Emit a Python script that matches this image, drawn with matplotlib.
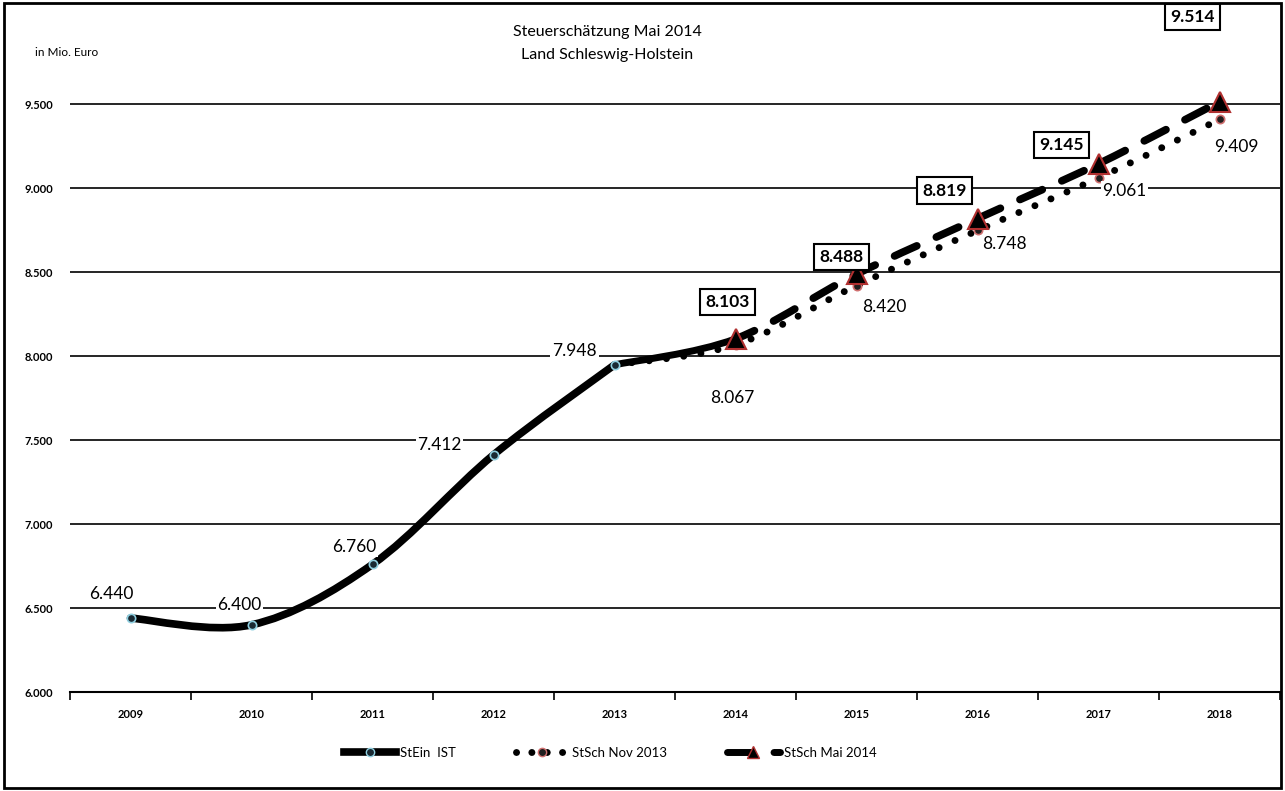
import matplotlib
matplotlib.use("Agg")
import matplotlib.pyplot as plt
from matplotlib.path import Path
from matplotlib.patches import PathPatch, Rectangle
from matplotlib.lines import Line2D
import numpy as np

plt.rcParams['font.family'] = ['Lato', 'DejaVu Sans']

years = ['2009', '2010', '2011', '2012', '2013', '2014', '2015', '2016', '2017', '2018']
ist_x = [0, 1, 2, 3, 4]
ist_vals = [6440, 6400, 6760, 7412, 7948]
nov_x = [4, 5, 6, 7, 8, 9]
nov_vals = [7948, 8067, 8420, 8748, 9061, 9409]
mai_x = [4, 5, 6, 7, 8, 9]
mai_vals = [7948, 8103, 8488, 8819, 9145, 9514]
y_ticks = [6000, 6500, 7000, 7500, 8000, 8500, 9000, 9500]
y_tick_labels = ['6.000', '6.500', '7.000', '7.500', '8.000', '8.500', '9.000', '9.500']

ist_labels = ['6.440', '6.400', '6.760', '7.412', '7.948']
ist_offsets = [(-19, 24), (-12, 20), (-18, 17), (-54, 10), (-40, 14)]
nov_labels = ['8.067', '8.420', '8.748', '9.061', '9.409']
nov_offsets = [(-3, -53), (28, -21), (27, -14), (26, -13), (17, -28)]
mai_labels = ['8.103', '8.488', '8.819', '9.145', '9.514']
mai_offsets = [(-8, 37), (-15, 17), (-33, 28), (-37, 19), (-27, 85)]


def smooth_segments(xs, ys):
    pts = np.column_stack([xs, ys]).astype(float)
    n = len(pts)
    segs = []
    for i in range(n - 1):
        p0 = pts[i - 1] if i > 0 else pts[i]
        p1 = pts[i]
        p2 = pts[i + 1]
        p3 = pts[i + 2] if i + 2 < n else pts[i + 1]
        c1 = p1 + (p2 - p0) / 6.0
        c2 = p2 - (p3 - p1) / 6.0
        segs.append([p1, c1, c2, p2])
    return segs


def path_from(segs):
    verts = [segs[0][0]]
    codes = [Path.MOVETO]
    for s in segs:
        verts += [s[1], s[2], s[3]]
        codes += [Path.CURVE4] * 3
    return Path(verts, codes)


fig = plt.figure(figsize=(12.85, 7.91), dpi=100)
ax = fig.add_axes([70 / 1285, 1 - 692 / 791, 1210 / 1285, (692 - 37) / 791])
ax.set_xlim(-0.5, 9.5)
ax.set_ylim(6000, 9900)

for s in ['top', 'right', 'left']:
    ax.spines[s].set_visible(False)
ax.spines['bottom'].set_linewidth(1.5)

ax.set_yticks(y_ticks)
ax.set_yticklabels(y_tick_labels, fontsize=8, fontweight='bold')
ax.tick_params(axis='y', length=0, pad=12)
for yv in y_ticks[1:]:
    ax.axhline(yv, color='black', lw=1.2, zorder=1)

ax.set_xticks(range(len(years)))
ax.set_xticklabels(years, fontsize=8, fontweight='bold')
ax.tick_params(axis='x', which='major', length=0, pad=12)
ax.set_xticks(np.arange(-0.5, 10, 1), minor=True)
ax.tick_params(axis='x', which='minor', length=6, width=1.2, direction='out')

# Lines
ax.add_patch(PathPatch(path_from(smooth_segments(ist_x, ist_vals)), fill=False,
                       lw=5.5, edgecolor='black', capstyle='round', zorder=3))
ax.add_patch(PathPatch(path_from(smooth_segments(nov_x, nov_vals)), fill=False,
                       lw=5, edgecolor='black', linestyle=(0, (0.01, 2.5)),
                       capstyle='round', zorder=4))
mai_segs = smooth_segments(mai_x, mai_vals)
ax.add_patch(PathPatch(path_from(mai_segs[:1]), fill=False, lw=5,
                       edgecolor='black', capstyle='round', zorder=5))
ax.add_patch(PathPatch(path_from(mai_segs[1:]), fill=False, lw=5.5,
                       edgecolor='black', linestyle=(0.5, (3.2, 2.8)),
                       capstyle='round', zorder=5))

ax.plot(ist_x, ist_vals, ls='none', marker='o', ms=6, mfc='#1a2a33',
        mec='#8fcfe0', mew=1.2, zorder=6)
ax.plot(nov_x[1:], nov_vals[1:], ls='none', marker='o', ms=6, mfc='#202020',
        mec='#d07070', mew=1.2, zorder=6)
ax.plot(mai_x[1:], mai_vals[1:], ls='none', marker='^', ms=14, mfc='black',
        mec='#b03030', mew=1.5, zorder=7)

bg = dict(boxstyle='square,pad=0.1', fc='white', ec='none')
for xi, yi, lab, off in zip(ist_x, ist_vals, ist_labels, ist_offsets):
    ax.annotate(lab, (xi, yi), xytext=off, textcoords='offset pixels',
                ha='center', va='center', fontsize=12.5, bbox=bg, zorder=8,
                annotation_clip=False)
for xi, yi, lab, off in zip(nov_x[1:], nov_vals[1:], nov_labels, nov_offsets):
    ax.annotate(lab, (xi, yi), xytext=off, textcoords='offset pixels',
                ha='center', va='center', fontsize=12.5, bbox=bg, zorder=8,
                annotation_clip=False)
box = dict(boxstyle='square,pad=0.3', fc='white', ec='black', lw=1.5)
for xi, yi, lab, off in zip(mai_x[1:], mai_vals[1:], mai_labels, mai_offsets):
    ax.annotate(lab, (xi, yi), xytext=off, textcoords='offset pixels',
                ha='center', va='center', fontsize=12.5, fontweight='bold',
                bbox=box, zorder=9, annotation_clip=False)

fig.text(607 / 1285, 1 - 32 / 791, 'Steuerschätzung Mai 2014', ha='center',
         va='center', fontsize=11.5)
fig.text(607 / 1285, 1 - 55 / 791, 'Land Schleswig-Holstein', ha='center',
         va='center', fontsize=11.5)
fig.text(35 / 1285, 1 - 52 / 791, 'in Mio. Euro', ha='left', va='center',
         fontsize=8.5)

handles = [
    Line2D([], [], color='black', lw=5.5, marker='o', ms=6, mfc='#1a2a33',
           mec='#8fcfe0'),
    Line2D([], [], color='black', lw=5, linestyle=(0, (0.01, 2.2)),
           dash_capstyle='round', marker='o', ms=6, mfc='#202020', mec='#d07070'),
    Line2D([], [], color='black', lw=5, linestyle=(0, (3.5, 3.2)),
           dash_capstyle='round', marker='^', ms=9, mfc='black', mec='#b03030'),
]
fig.legend(handles, ['StEin  IST', 'StSch Nov 2013', 'StSch Mai 2014'],
           loc='center', bbox_to_anchor=(610 / 1285, 1 - 753 / 791), ncol=3,
           frameon=False, fontsize=9.5, handlelength=4, columnspacing=4.5,
           handletextpad=0.3)

fig.patches.append(Rectangle((0.003, 0.004), 0.994, 0.992, transform=fig.transFigure,
                             fill=False, ec='black', lw=2))

fig.savefig('out.png', dpi=100)
